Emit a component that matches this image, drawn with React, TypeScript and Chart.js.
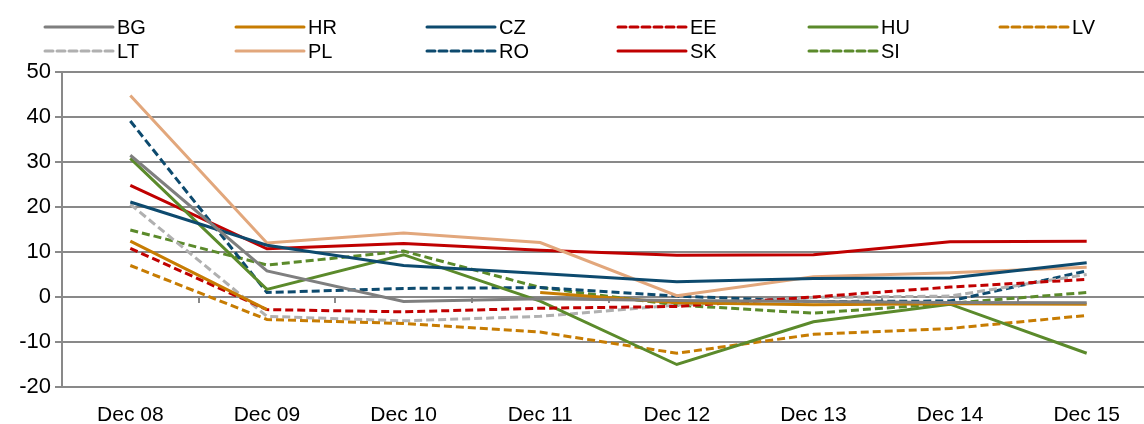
import React, { useEffect, useRef } from "react";
import { Chart, registerables } from "chart.js";

Chart.register(...registerables);

// Year-end values per country
const categories = ["Dec 08", "Dec 09", "Dec 10", "Dec 11", "Dec 12", "Dec 13", "Dec 14", "Dec 15"];
const BG = [31.5, 5.8, -1.0, -0.4, -0.8, -1.0, -1.2, -1.3];
const HR = [12.4, -2.8, null, 1.0, -1.3, -1.7, -1.5, -1.6];
const CZ = [21.1, 11.5, 7.0, 5.2, 3.4, 4.1, 4.2, 7.6];
const EE = [10.8, -2.8, -3.3, -2.5, -2.1, 0.0, 2.2, 3.9];
const HU = [30.8, 1.7, 9.4, -0.9, -15.0, -5.5, -1.6, -12.5];
const LV = [7.0, -5.0, -5.9, -7.8, -12.5, -8.3, -7.0, -4.1];
const LT = [20.6, -4.3, -5.3, -4.3, -1.8, -0.1, 0.2, 5.0];
const PL = [44.8, 12.0, 14.2, 12.1, 0.3, 4.5, 5.4, 6.6];
const RO = [39.1, 1.0, 1.9, 2.1, 0.2, -1.0, -0.9, 5.8];
const SK = [24.8, 10.7, 11.9, 10.4, 9.3, 9.4, 12.3, 12.4];
const SI = [14.9, 7.1, 10.2, 2.1, -1.8, -3.6, -1.4, 1.0];

const yTicks = [-20, -10, 0, 10, 20, 30, 40, 50];

const FONT = "'Liberation Sans', Arial, sans-serif";
const GRID = "#898989";
const DASH = [8, 4];

const series = [
  { label: "BG", data: BG, color: "#7f7f7f", dashed: false },
  { label: "HR", data: HR, color: "#c77c02", dashed: false },
  { label: "CZ", data: CZ, color: "#0d4a6e", dashed: false },
  { label: "EE", data: EE, color: "#c00000", dashed: true },
  { label: "HU", data: HU, color: "#5b8a2b", dashed: false },
  { label: "LV", data: LV, color: "#c77c02", dashed: true },
  { label: "LT", data: LT, color: "#b0b0b0", dashed: true },
  { label: "PL", data: PL, color: "#e2a77c", dashed: false },
  { label: "RO", data: RO, color: "#0d4a6e", dashed: true },
  { label: "SK", data: SK, color: "#c00000", dashed: false },
  { label: "SI", data: SI, color: "#5b8a2b", dashed: true },
];

// Legend laid out as a 6-column grid above the plot
const legendLeft = 45;
const legendColWidth = 191;
const legendRows = [27, 51];
const legendLineLen = 68;

const gridLegend = {
  id: "gridLegend",
  afterDraw(chart: any) {
    const ctx = chart.ctx;
    ctx.save();
    chart.data.datasets.forEach((ds: any, i: number) => {
      const x = legendLeft + (i % 6) * legendColWidth;
      const y = legendRows[Math.floor(i / 6)];
      ctx.beginPath();
      ctx.strokeStyle = ds.borderColor;
      ctx.lineWidth = 3;
      ctx.lineCap = "round";
      ctx.setLineDash(ds.borderDash || []);
      ctx.moveTo(x, y);
      ctx.lineTo(x + legendLineLen, y);
      ctx.stroke();
      ctx.setLineDash([]);
      ctx.fillStyle = "#000";
      ctx.font = `20px ${FONT}`;
      ctx.textBaseline = "middle";
      ctx.textAlign = "left";
      ctx.fillText(ds.label, x + legendLineLen + 4, y + 1);
    });
    ctx.restore();
  },
};

// Short tick marks on the zero line, between neighbouring categories
const zeroTicks = {
  id: "zeroTicks",
  beforeDatasetsDraw(chart: any) {
    const xs = chart.scales.x;
    const ys = chart.scales.y;
    const y0 = Math.round(ys.getPixelForValue(0));
    const n = categories.length;
    const step = xs.getPixelForValue(1) - xs.getPixelForValue(0);
    const ctx = chart.ctx;
    ctx.save();
    ctx.strokeStyle = GRID;
    ctx.lineWidth = 2;
    for (let i = 0; i <= n; i++) {
      const x = Math.round(xs.getPixelForValue(0) + (i - 0.5) * step);
      ctx.beginPath();
      ctx.moveTo(x, y0);
      ctx.lineTo(x, y0 + 6);
      ctx.stroke();
    }
    ctx.restore();
  },
};

export default function App() {
  const ref = useRef<HTMLCanvasElement | null>(null);

  useEffect(() => {
    if (!ref.current) return;
    const chart = new Chart(ref.current, {
      type: "line",
      data: {
        labels: categories,
        datasets: series.map((s) => ({
          label: s.label,
          data: s.data,
          borderColor: s.color,
          backgroundColor: s.color,
          borderWidth: 3,
          borderDash: s.dashed ? DASH : [],
          pointRadius: 0,
          tension: 0,
          spanGaps: false,
          fill: false,
        })),
      },
      options: {
        responsive: false,
        animation: false,
        devicePixelRatio: 1,
        layout: { padding: { top: 72, right: 5, left: 0, bottom: 0 } },
        plugins: {
          legend: { display: false },
          tooltip: { enabled: false },
        },
        scales: {
          x: {
            type: "category",
            offset: true,
            grid: { display: false, drawTicks: false },
            border: { display: false },
            ticks: {
              color: "#000",
              font: { family: FONT, size: 21 },
              padding: 16,
              maxRotation: 0,
              autoSkip: false,
            },
            afterFit(scale: any) {
              scale.height = 37;
            },
          },
          y: {
            min: -20,
            max: 50,
            afterBuildTicks(scale: any) {
              scale.ticks = yTicks.map((v) => ({ value: v }));
            },
            grid: { color: GRID, lineWidth: 2, tickLength: 7 },
            border: { display: true, color: GRID, width: 2 },
            ticks: {
              color: "#000",
              font: { family: FONT, size: 22 },
              padding: 4,
            },
            afterFit(scale: any) {
              scale.width = 62;
            },
          },
        },
      },
      plugins: [gridLegend, zeroTicks],
    });
    return () => chart.destroy();
  }, []);

  return (
    <div
      style={{
        position: "fixed",
        left: 0,
        top: 0,
        width: 1144,
        height: 424,
        overflow: "hidden",
        background: "#fff",
      }}
    >
      <canvas ref={ref} width={1160} height={424} style={{ width: 1160, height: 424, display: "block" }} />
    </div>
  );
}
